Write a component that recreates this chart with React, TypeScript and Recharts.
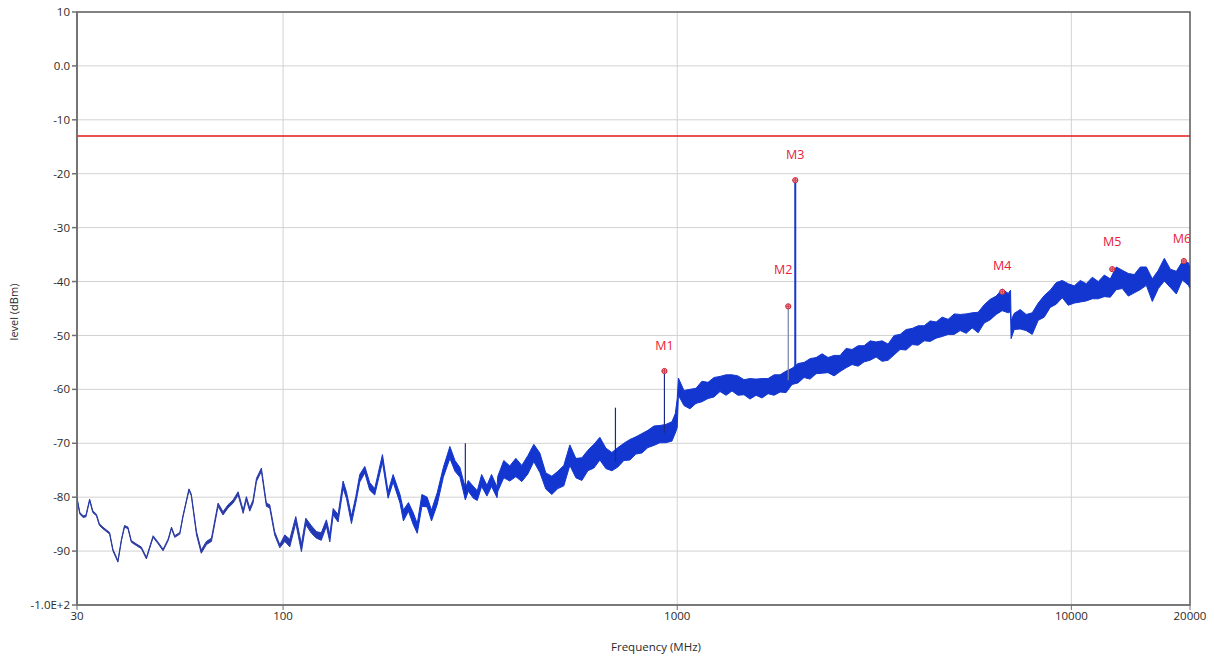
import React from "react";
import {
  ComposedChart,
  Area,
  Scatter,
  XAxis,
  YAxis,
  CartesianGrid,
  ReferenceLine,
  ReferenceArea,
} from "recharts";

// measured trace: frequency (MHz), band centre (dBm), band thickness (dB)
const traceFreq = [
  // 30 - 200 MHz, thin trace
  30, 30.5, 31.1, 31.6, 32.3, 32.9, 33.6, 34.2, 34.9, 36.3,
  37.0, 38.1, 38.9, 39.6, 40.4, 41.2, 42.4, 43.7, 45.0, 46.8,
  48.2, 49.6, 51.1, 52.1, 53.1, 54.7, 55.7, 57.7, 58.5, 60.3,
  62.0, 63.9, 65.8, 68.4, 70.4, 72.5, 74.7, 76.9, 79.2, 80.7,
  82.3, 83.9, 85.6, 88.1, 90.7, 92.5, 95.2, 98.1, 101, 104,
  107.7, 111.3, 114.2, 118, 121.5, 125, 128.8, 131.4, 134, 137.9,
  142, 144.8, 149.1, 152.9, 156.5, 161.2, 165.9, 170.8, 178.7, 184.7,
  190.2, 198,
  // 200 - 350 MHz
  202, 208, 214, 219, 225, 232, 238, 246, 255, 265,
  273, 281, 290, 295, 304, 311, 319, 329, 338, 349,
  // 350 MHz - 1 GHz
  350.6, 363.1, 376.0, 389.5, 403.4, 417.8, 432.7, 448.1, 464.1, 480.7,
  497.9, 515.6, 534.0, 553.1, 572.9, 593.3, 614.5, 636.4, 659.1, 682.7,
  707.1, 732.3, 758.4, 785.5, 813.6, 842.6, 872.7, 903.9, 936.1, 969.6,
  989, 1000,
  // 1 - 7 GHz
  1007, 1040, 1077, 1116, 1155, 1197, 1240, 1284, 1330, 1377,
  1426, 1477, 1530, 1585, 1641, 1700, 1761, 1824, 1889, 1956,
  2026, 2098, 2173, 2251, 2331, 2414, 2500, 2590, 2682, 2778,
  2877, 2980, 3086, 3196, 3310, 3428, 3551, 3678, 3809, 3945,
  4086, 4232, 4383, 4539, 4701, 4869, 5043, 5223, 5409, 5602,
  5802, 6010, 6224, 6446, 6677, 6915, 7010,
  // 7 - 20 GHz
  7032, 7162, 7417, 7682, 7956, 8240, 8535, 8839, 9155, 9482,
  9820, 10171, 10534, 10910, 11300, 11703, 12121, 12554, 13002, 13466,
  13947, 14445, 14961, 15495, 16048, 16621, 17215, 17830, 18466, 19126,
  19808, 20000,
];

const traceLevel = [
  -80.2, -83.0, -83.6, -83.5, -80.5, -82.7, -83.3, -85.1, -85.7, -86.7,
  -89.8, -91.9, -87.9, -85.4, -85.7, -88.2, -88.8, -89.4, -91.3, -87.3,
  -88.5, -89.8, -87.9, -85.7, -87.3, -86.7, -83.6, -78.6, -79.6, -86.7,
  -90.1, -88.5, -87.9, -81.4, -83.0, -81.7, -80.8, -79.3, -82.7, -80.2,
  -82.3, -80.8, -76.8, -74.9, -81.4, -81.7, -86.7, -89.1, -87.6, -88.5,
  -84.2, -89.4, -84.5, -86.0, -87.0, -87.3, -84.8, -87.6, -82.7, -83.9,
  -77.7, -79.6, -84.2, -80.5, -76.5, -74.9, -78.0, -79.0, -72.8, -79.6,
  -76.5, -80.3,
  -83.4, -81.8, -84.0, -85.8, -80.6, -80.9, -83.4, -80.3, -75.4, -71.7,
  -74.2, -75.4, -79.4, -77.9, -79.1, -79.7, -76.9, -78.8, -76.9, -79.1,
  -77.5, -74.8, -75.6, -74.5, -75.6, -74.0, -71.8, -73.6, -77.0, -77.8,
  -76.8, -76.0, -72.2, -74.6, -74.8, -73.2, -72.4, -71.0, -72.8, -73.4,
  -72.6, -71.6, -71.2, -70.4, -70.0, -69.2, -68.6, -68.3, -68.2, -67.8,
  -66.3, -64.4,
  -59.5, -61.6, -61.8, -61.2, -60.4, -60.2, -59.6, -59.0, -59.2, -58.8,
  -59.3, -59.6, -59.9, -59.6, -59.8, -59.4, -59.2, -58.9, -58.6, -57.6,
  -57.0, -56.4, -56.2, -55.6, -55.2, -55.5, -55.6, -55.2, -54.2, -54.0,
  -53.8, -53.4, -52.8, -52.6, -52.9, -53.1, -51.8, -51.2, -50.8, -50.2,
  -50.0, -49.6, -49.2, -49.0, -48.4, -48.4, -47.9, -47.6, -47.8, -47.2,
  -47.6, -46.0, -45.2, -44.4, -43.4, -44.0, -43.6,
  -48.9, -47.4, -47.0, -47.6, -47.8, -45.6, -44.6, -43.2, -42.2, -41.4,
  -42.4, -42.4, -41.8, -42.0, -41.2, -41.6, -40.8, -41.2, -39.4, -39.6,
  -40.6, -40.4, -39.4, -39.0, -41.6, -39.6, -37.8, -39.4, -40.2, -38.0,
  -38.6, -39.4,
];

const traceSpread = [
  0.3, 0.3, 0.3, 0.3, 0.3, 0.3, 0.3, 0.3, 0.3, 0.3,
  0.3, 0.3, 0.3, 0.3, 0.3, 0.3, 0.3, 0.3, 0.3, 0.3,
  0.3, 0.3, 0.3, 0.3, 0.3, 0.3, 0.3, 0.3, 0.3, 0.6,
  0.6, 0.6, 0.6, 0.6, 0.6, 0.6, 0.6, 0.6, 0.6, 0.6,
  0.6, 0.6, 0.6, 0.6, 0.6, 0.6, 0.6, 0.6, 1.2, 1.4,
  1.2, 1.4, 1.2, 1.4, 1.2, 1.4, 1.2, 1.4, 1.2, 1.4,
  1.4, 1.2, 1.4, 1.2, 1.4, 1.2, 1.4, 1.2, 1.4, 1.2,
  1.4, 1.6,
  2.0, 1.6, 2.2, 1.8, 2.2, 1.8, 2.0, 2.2, 1.8, 2.2,
  2.0, 1.8, 2.2, 2.0, 2.2, 1.8, 2.2, 2.0, 2.2, 2.0,
  2.8, 3.2, 2.8, 3.4, 3.0, 3.4, 3.2, 3.6, 3.0, 3.4,
  3.2, 3.8, 3.8, 3.6, 4.2, 3.8, 4.4, 4.2, 3.8, 3.4,
  3.6, 3.2, 3.8, 3.2, 3.6, 3.2, 3.6, 3.2, 3.4, 3.6,
  3.6, 5.4,
  3.2, 2.8, 3.6, 2.8, 3.8, 3.0, 3.6, 2.8, 3.8, 3.0,
  3.6, 2.8, 3.8, 3.0, 3.6, 2.8, 3.8, 3.2, 4.0, 3.0,
  3.6, 2.8, 3.8, 3.0, 3.6, 2.8, 3.8, 3.0, 3.6, 2.8,
  3.8, 3.0, 3.6, 2.8, 3.8, 3.0, 3.6, 2.8, 3.8, 3.0,
  3.6, 2.8, 3.8, 3.0, 3.6, 2.8, 3.8, 3.0, 3.6, 2.8,
  3.8, 3.4, 3.8, 3.4, 4.0, 3.6, 4.0,
  3.4, 3.0, 3.6, 3.0, 4.0, 3.2, 4.0, 3.2, 4.0, 3.2,
  4.0, 3.2, 4.0, 3.2, 4.0, 3.2, 4.0, 3.4, 4.2, 3.4,
  4.2, 3.4, 4.2, 3.4, 4.2, 3.4, 4.2, 3.4, 4.2, 3.4,
  4.2, 3.8,
];

// narrow spurs drawn as vertical strokes
const spurFreq = [290, 697, 928, 1913, 1993];
const spurBase = [-79.4, -73.5, -68.1, -58.3, -57.8];
const spurTop = [-70.0, -63.4, -56.6, -44.6, -21.2];

const markerNames = ["M1", "M2", "M3", "M4", "M5", "M6"];
const markerFreq = [928, 1913, 1993, 6678, 12700, 19300];
const markerLevel = [-56.6, -44.6, -21.2, -41.9, -37.7, -36.2];

const limitLevel = -13;

const freqTicks = [30, 100, 1000, 10000, 20000];
const levelTicks = [10, 0, -10, -20, -30, -40, -50, -60, -70, -80, -90, -100];
const levelTickLabels = ["10", "0.0", "-10", "-20", "-30", "-40", "-50", "-60", "-70", "-80", "-90", "-1.0E+2"];

const trace = traceFreq.map((f, i) => ({
  f,
  band: [traceLevel[i] - traceSpread[i] / 2, traceLevel[i] + traceSpread[i] / 2],
}));

const markers = markerNames.map((name, i) => ({ name, f: markerFreq[i], level: markerLevel[i] }));

const TRACE = "#1236cf";
const RED = "#e8213a";
const FONT = "'Open Sans', 'DejaVu Sans', sans-serif";

// label lift above the marker dot (px), M2 sits higher in the original
const labelLift: Record<string, number> = { M1: 26, M2: 37, M3: 26, M4: 26, M5: 28, M6: 23 };
const labelShift: Record<string, number> = { M2: -5, M6: -2 };

const MarkerDot = (props: any) => {
  const { cx, cy, payload } = props;
  if (cx == null || cy == null) return null;
  const lift = labelLift[payload.name] ?? 26;
  const dx = labelShift[payload.name] ?? 0;
  return (
    <g>
      <circle cx={cx} cy={cy} r={2.6} fill="#f4a0a8" stroke="#c8283c" strokeWidth={1} />
      <line x1={cx - 2.6} x2={cx + 2.6} y1={cy} y2={cy} stroke="#c8283c" strokeWidth={0.8} />
      <line x1={cx} x2={cx} y1={cy - 2.6} y2={cy + 2.6} stroke="#c8283c" strokeWidth={0.8} />
      <text
        x={cx + dx}
        y={cy - lift}
        textAnchor="middle"
        dominantBaseline="central"
        fill={RED}
        fontSize={12.5}
        fontFamily={FONT}
      >
        {payload.name}
      </text>
    </g>
  );
};

export default function App() {
  return (
    <div style={{ position: "absolute", left: 0, top: 0, background: "#fff" }}>
      <ComposedChart
        width={1214}
        height={661}
        data={trace}
        margin={{ top: 12, right: 24, bottom: 26, left: 17 }}
      >
        <defs>
          <linearGradient id="traceTint" x1="0" y1="0" x2="1" y2="0">
            <stop offset="0" stopColor="#2b3a9e" />
            <stop offset="0.17" stopColor="#2a3aa8" />
            <stop offset="0.3" stopColor={TRACE} />
            <stop offset="1" stopColor={TRACE} />
          </linearGradient>
        </defs>
        <CartesianGrid stroke="#d2d2d2" strokeWidth={1} />
        <XAxis
          dataKey="f"
          type="number"
          scale="log"
          domain={[30, 20000]}
          allowDataOverflow
          ticks={freqTicks}
          interval={0}
          height={30}
          stroke="#707070"
          tickSize={5}
          tick={{ fill: "#2a2a2a", fontSize: 11.5, fontFamily: FONT }}
          label={{
            content: () => (
              <text x={656} y={651} textAnchor="middle" fill="#2a2a2a" fontSize={11.5} fontFamily={FONT}>
                Frequency (MHz)
              </text>
            ),
          }}
        />
        <YAxis
          type="number"
          domain={[-100, 10]}
          ticks={levelTicks}
          interval={0}
          width={60}
          stroke="#707070"
          strokeWidth={1.5}
          tickSize={5}
          tickFormatter={(v: number) => levelTickLabels[levelTicks.indexOf(v)]}
          tick={{ fill: "#2a2a2a", fontSize: 11.5, fontFamily: FONT }}
          label={{
            content: () => (
              <text
                x={18}
                y={312}
                transform="rotate(-90 18 312)"
                textAnchor="middle"
                fill="#2a2a2a"
                fontSize={11}
                fontFamily={FONT}
              >
                level (dBm)
              </text>
            ),
          }}
        />
        <ReferenceArea
          x1={30}
          x2={20000}
          y1={-100}
          y2={10}
          fill="none"
          stroke="#606060"
          strokeWidth={1.5}
        />
        <ReferenceLine y={limitLevel} stroke="#e01818" strokeWidth={1.5} />
        <Area
          type="linear"
          dataKey="band"
          stroke="url(#traceTint)"
          strokeWidth={1}
          fill="url(#traceTint)"
          fillOpacity={1}
          dot={false}
          activeDot={false}
          isAnimationActive={false}
        />
        {spurFreq.map((f, i) => (
          <ReferenceLine
            key={f}
            segment={[
              { x: f, y: spurBase[i] },
              { x: f, y: spurTop[i] },
            ]}
            stroke={i === 3 ? "#7a7fa8" : i === 4 ? TRACE : "#1a2a8a"}
            strokeWidth={i === 4 ? 2 : 1.2}
          />
        ))}
        <Scatter data={markers} dataKey="level" shape={MarkerDot} isAnimationActive={false} />
      </ComposedChart>
    </div>
  );
}
